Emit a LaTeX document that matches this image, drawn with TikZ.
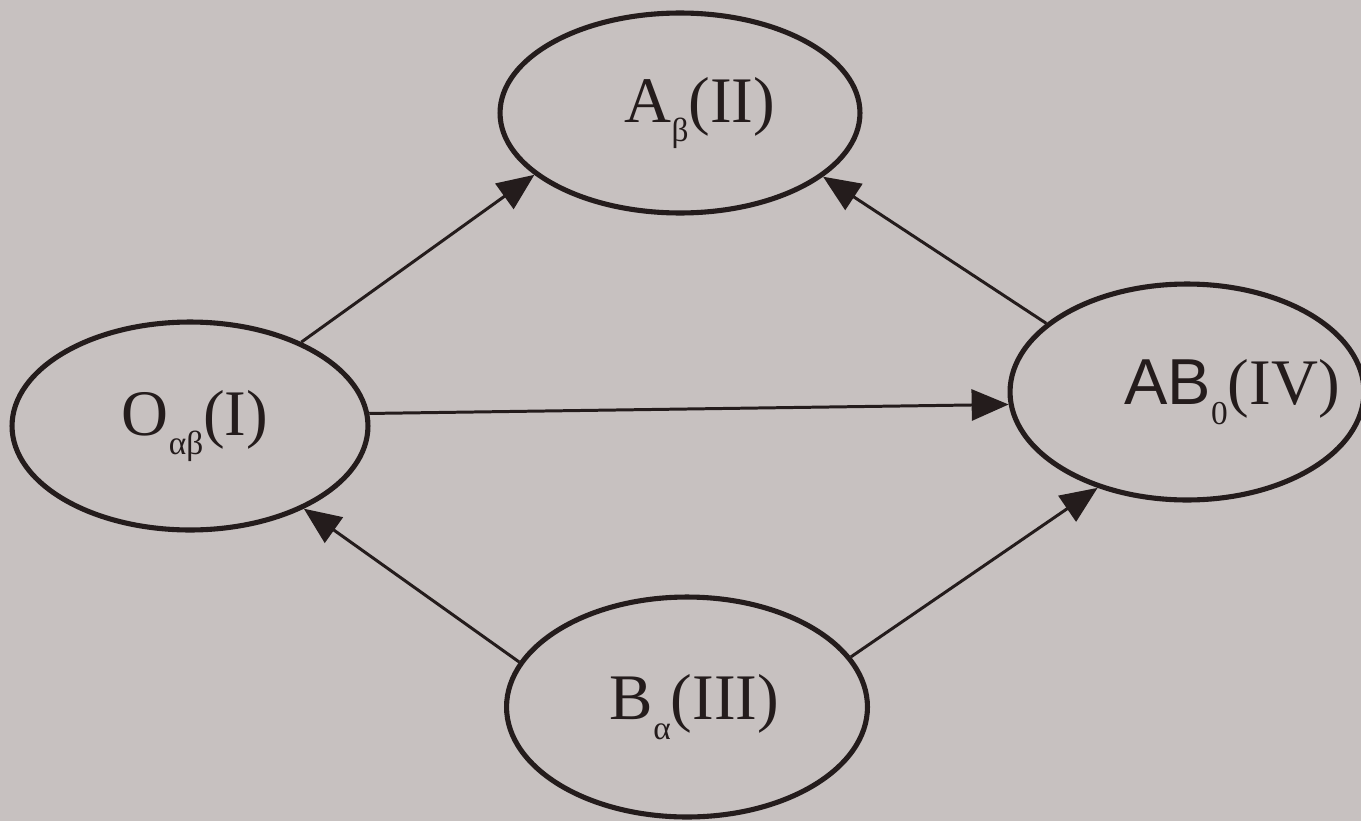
\documentclass[tikz,border=0pt]{standalone}
\usepackage{fontspec}
\setmainfont{Liberation Serif}
\newfontfamily\grotesk{Liberation Sans}
\usetikzlibrary{arrows.meta,shapes.geometric,positioning}
\definecolor{paper}{RGB}{199,193,192}
\definecolor{ink}{RGB}{36,28,28}
\newcommand{\lowidx}[1]{\raisebox{-0.3em}{\fontsize{19}{19}\selectfont #1}}
% text pushed right inside its oval, without widening the oval
\newcommand{\pushed}[2]{\makebox[0pt]{\hspace*{#1}#2}}

\begin{document}
\begin{tikzpicture}[x=0.02cm, y=-0.02cm,
group/.style={ellipse, draw=ink, line width=2.9pt, inner sep=0pt, text=ink, font=\fontsize{37}{40}\selectfont},
flow/.style={-{Triangle[length=0.74cm, width=0.62cm]}, draw=ink, line width=1.7pt}
]
\useasboundingbox (0,0) rectangle (1361,821);
\fill[paper] (0,0) rectangle (1361,821);
\node[group, minimum width=7.12cm, minimum height=4.16cm] (zero) at (190,426) {\pushed{0.2cm}{O\lowidx{αβ}(I)}};
\node[group, minimum width=7.2cm, minimum height=4.0cm] (agr) at (680,113) {\pushed{0.8cm}{A\lowidx{β}(II)}};
\node[group, minimum width=7.22cm, minimum height=4.4cm] (bgr) at (687,707) {\pushed{0.3cm}{B\lowidx{α}(III)}};
\node[group, minimum width=7.08cm, minimum height=4.32cm] (abgr) at (1187,392) {\pushed{1.8cm}{{\grotesk AB}\lowidx{0}(IV)}};
\draw[flow] (zero.37) -- (agr.203);
\draw[flow] (zero.4) -- (abgr.184);
\draw[flow] (abgr.154) -- (agr.336);
\draw[flow] (bgr.165) -- (zero.324);
\draw[flow] (bgr.17) -- (abgr.227);
\end{tikzpicture}
\end{document}
